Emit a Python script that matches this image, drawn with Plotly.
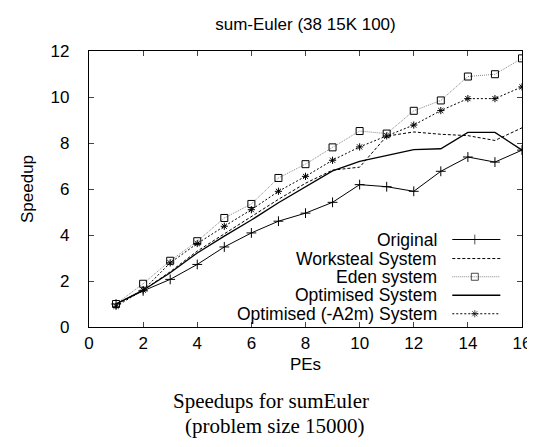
import plotly.graph_objects as go

pes = list(range(1, 17))
original = [1.0, 1.57, 2.07, 2.72, 3.48, 4.09, 4.6, 4.95, 5.42, 6.19, 6.1, 5.9, 6.77, 7.39, 7.17, 7.69]
worksteal = [1.0, 1.6, 2.4, 3.3, 4.05, 4.8, 5.55, 6.25, 6.82, 6.95, 8.3, 8.48, 8.38, 8.32, 8.11, 8.66]
eden = [1.0, 1.88, 2.88, 3.73, 4.74, 5.35, 6.48, 7.08, 7.81, 8.52, 8.41, 9.4, 9.85, 10.89, 10.99, 11.68]
optimised = [1.0, 1.6, 2.36, 3.22, 3.95, 4.65, 5.4, 6.1, 6.79, 7.2, 7.46, 7.71, 7.75, 8.46, 8.46, 7.69]
a2m = [0.9, 1.6, 2.79, 3.63, 4.38, 5.1, 5.9, 6.55, 7.25, 7.83, 8.31, 8.78, 9.41, 9.93, 9.93, 10.44]

names = ["Original", "Worksteal System", "Eden system", "Optimised System", "Optimised (-A2m) System"]
series = [original, worksteal, eden, optimised, a2m]
styles = [
    dict(line=dict(color="black", width=1, dash="solid"), symbol="cross-thin-open", size=7),
    dict(line=dict(color="black", width=1, dash="3px,2px"), symbol=None, size=0),
    dict(line=dict(color="#888888", width=1, dash="1px,1px"), symbol="square-open", size=7),
    dict(line=dict(color="black", width=1.3, dash="solid"), symbol=None, size=0),
    dict(line=dict(color="black", width=1, dash="2px,2px"), symbol="asterisk-open", size=6),
]

SANS = "Liberation Sans, Arial, Helvetica, sans-serif"
SERIF = "Liberation Serif, Times New Roman, serif"

fig = go.Figure()
for name, ys, st in zip(names, series, styles):
    mode = "lines+markers" if st["symbol"] else "lines"
    kw = {}
    if st["symbol"]:
        kw["marker"] = dict(symbol=st["symbol"], size=st["size"], color="black",
                            line=dict(color="black", width=1))
    fig.add_trace(go.Scatter(x=pes, y=ys, mode=mode, name=name, line=st["line"],
                             showlegend=False, **kw))

# gnuplot-style key: text on the left, sample on the right
leg_y = [0.317, 0.248, 0.182, 0.115, 0.048]
for name, st, ly in zip(names, styles, leg_y):
    fig.add_annotation(xref="paper", yref="paper", x=0.809, y=ly, text=name,
                       showarrow=False, xanchor="right", yanchor="middle",
                       font=dict(family=SANS, size=17.5, color="black"))
    mode = "lines+markers" if st["symbol"] else "lines"
    kw = {}
    if st["symbol"]:
        kw["marker"] = dict(symbol=st["symbol"], size=[0, st["size"], 0], color="black",
                            line=dict(color="black", width=1))
    fig.add_trace(go.Scatter(x=[0.839, 0.891, 0.95], y=[ly, ly, ly], xaxis="x2", yaxis="y2",
                             mode=mode, line=st["line"], showlegend=False, hoverinfo="skip", **kw))

fig.update_layout(
    width=535, height=447,
    margin=dict(l=81, r=14, t=43, b=128),
    paper_bgcolor="white", plot_bgcolor="white",
    font=dict(family=SANS, size=17, color="black"),
    title=dict(text="sum-Euler (38 15K 100)", xref="paper", x=0.5, xanchor="center",
               yref="container", y=0.965, yanchor="middle", font=dict(family=SANS, size=17)),
    xaxis=dict(range=[0, 16], tickvals=list(range(0, 17, 2)), ticks="inside", ticklen=5,
               showline=True, linecolor="black", linewidth=1.3, mirror="allticks",
               showgrid=False, zeroline=False, ticklabelstandoff=0,
               title=dict(text="PEs", font=dict(size=17), standoff=6)),
    yaxis=dict(range=[0, 12], tickvals=list(range(0, 13, 2)), ticks="inside", ticklen=5,
               showline=True, linecolor="black", linewidth=1.3, mirror="allticks",
               showgrid=False, zeroline=False, ticklabelstandoff=15,
               title=dict(text="Speedup", font=dict(size=17), standoff=12)),
    xaxis2=dict(range=[0, 1], overlaying="x", visible=False, fixedrange=True),
    yaxis2=dict(range=[0, 1], overlaying="y", visible=False, fixedrange=True),
)

fig.add_annotation(xref="paper", yref="paper", x=0.42, y=-0.267, text="Speedups for sumEuler",
                   showarrow=False, xanchor="center", yanchor="middle",
                   font=dict(family=SERIF, size=21))
fig.add_annotation(xref="paper", yref="paper", x=0.43, y=-0.357, text="(problem size 15000)",
                   showarrow=False, xanchor="center", yanchor="middle",
                   font=dict(family=SERIF, size=21))

fig.write_html("out.html")
